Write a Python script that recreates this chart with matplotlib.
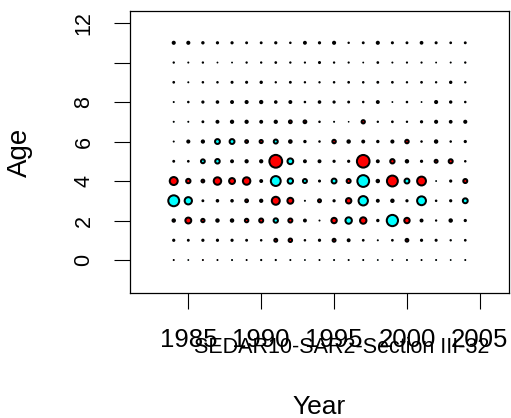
import numpy as np
import matplotlib
matplotlib.use("Agg")
import matplotlib.pyplot as plt

# ---------------- data ----------------
years = list(range(1984, 2005))
ages = list(range(0, 12))

resid_age0 = [0.30, -0.25, 0.30, 0.30, -0.30, 0.30, -0.35, -0.35, -0.30, -0.25, -0.30,
              -0.30, -0.30, -0.30, -0.25, -0.25, -0.30, -0.30, -0.30, -0.25, -0.30]
resid_age1 = [0.65, -0.55, 0.65, 0.65, 0.65, 0.55, -0.45, 1.15, 1.30, 0.45, 0.65,
              1.15, 0.85, -0.50, -0.30, 0.50, 1.10, 0.65, 0.60, -0.40, 0.50]
resid_age2 = [1.00, 2.00, 1.25, 1.00, 1.00, 1.30, 1.45, -1.55, 1.45, 0.85, -0.30,
              1.85, -2.15, 2.15, 0.70, -3.55, 1.85, 0.85, -0.40, 1.00, 0.65]
resid_age3 = [-3.45, -2.40, 0.55, 0.75, 0.75, 1.10, 0.95, 2.60, 2.00, -0.30, 1.15,
              0.65, 1.85, -3.00, 0.85, 1.00, 0.65, -2.85, -0.45, 0.65, -1.70]
resid_age4 = [2.60, 1.55, 1.10, 2.45, 2.00, 2.45, 0.85, -3.15, -1.85, -1.45, 0.60,
              -1.70, 1.45, -3.70, 1.00, 3.45, -1.70, 2.85, -0.25, 0.65, 1.45]
resid_age5 = [0.55, -0.50, -1.40, -1.60, 0.85, 0.95, 0.95, 4.00, -1.95, 0.85, 0.85,
              0.65, 0.65, 3.95, 0.85, 1.55, 1.00, 0.65, 1.15, 1.45, 0.45]
resid_age6 = [-0.30, 0.90, 0.95, -1.70, -1.70, 1.10, 1.20, -1.45, 1.05, 0.70, 0.45,
              1.30, 1.00, 0.85, 0.70, 0.90, 1.30, 0.45, 1.00, -0.45, 0.65]
resid_age7 = [-0.30, -0.30, 0.55, 0.85, 0.95, 0.95, 0.85, 0.95, 1.10, 1.10, 0.45,
              -0.30, -0.20, 1.25, -0.40, 0.50, -0.40, 0.65, 0.90, -0.80, 0.90]
resid_age8 = [-0.30, -0.45, 0.65, -0.75, 0.85, 0.90, 0.95, -0.75, -0.85, -0.45, 0.75,
              -0.65, 0.55, -0.45, -0.85, -0.25, -0.45, -0.25, 0.90, -0.70, -0.45]
resid_age9 = [0.50, -0.30, 0.45, -0.45, -0.60, 0.60, -0.70, 0.40, -0.55, 0.40, -0.40,
              -0.45, 0.50, -0.45, 0.55, 0.50, -0.40, 0.50, -0.40, -0.70, -0.40]
resid_age10 = [-0.40, -0.30, -0.40, -0.25, -0.25, -0.40, -0.40, 0.50, -0.40, -0.35, 0.60,
               -0.40, -0.35, -0.25, 0.50, -0.30, -0.35, -0.35, -0.25, -0.30, -0.40]
resid_age11 = [0.90, 0.90, 0.70, 0.65, 0.65, 0.55, 0.55, 0.65, 0.45, 0.85, 0.65,
               0.90, 0.40, 0.55, 0.90, 0.60, 0.55, 0.80, 0.60, 0.50, 0.55]

x_ticks = [1985, 1990, 1995, 2000, 2005]
x_ticklabels = ["1985", "1990", "1995", "2000", "2005"]
y_ticks = [0, 2, 4, 6, 8, 10, 12]
y_ticklabels = ["0", "2", "4", "6", "8", "", "12"]
note_text = "SEDAR10-SAR2-Section III-32"

# ---------------- figure ----------------
plt.rcParams['font.family'] = ['Liberation Sans', 'DejaVu Sans']
W, H, DPI = 511, 418, 100
fig = plt.figure(figsize=(W / DPI, H / DPI), dpi=DPI)
L, R, T, B = 130, 509, 11, 293
ax = fig.add_axes([L / W, 1 - B / H, (R - L) / W, (B - T) / H])

resid = np.array([resid_age0, resid_age1, resid_age2, resid_age3, resid_age4,
                  resid_age5, resid_age6, resid_age7, resid_age8, resid_age9,
                  resid_age10, resid_age11])
YY, AA = np.meshgrid(years, ages)
vals = resid.ravel()
diam_px = 1.0 + 3.45 * np.abs(vals)
lw_px = np.minimum(2.0, 0.55 * diam_px)
inner_px = np.clip(diam_px - lw_px, 0.05, None)
sizes = (inner_px * 72.0 / DPI) ** 2
colors = np.where(vals > 0, '#FF0000', '#00FFFF')
ax.scatter(YY.ravel(), AA.ravel(), s=sizes, c=colors, edgecolors='black',
           linewidths=lw_px * 72.0 / DPI, zorder=3)

ax.set_xlim(1981, 2007)
ax.set_ylim(-1.67, 12.61)
ax.set_xticks(x_ticks)
ax.set_xticklabels(x_ticklabels, fontsize=18.5)
ax.set_yticks(y_ticks)
ax.set_yticklabels(y_ticklabels, fontsize=15.5, rotation=90, va='center')
ax.tick_params(axis='x', length=11.5, width=0.8, pad=14)
ax.tick_params(axis='y', length=11.5, width=0.8, pad=14)
for sp in ax.spines.values():
    sp.set_linewidth(0.9)

ax.set_xlabel("Year", fontsize=19)
ax.xaxis.set_label_coords(0.5, -(414 - B) / (B - T))
ax.xaxis.label.set_va('baseline')
ax.set_ylabel("Age", fontsize=20)
ax.yaxis.set_label_coords(-(L - 27) / (R - L), 0.5)
ax.yaxis.label.set_va('baseline')

fig.text(342 / W, 1 - 352.7 / H, note_text, fontsize=15.5, ha='center', va='baseline')

fig.savefig("out.png", dpi=DPI)
